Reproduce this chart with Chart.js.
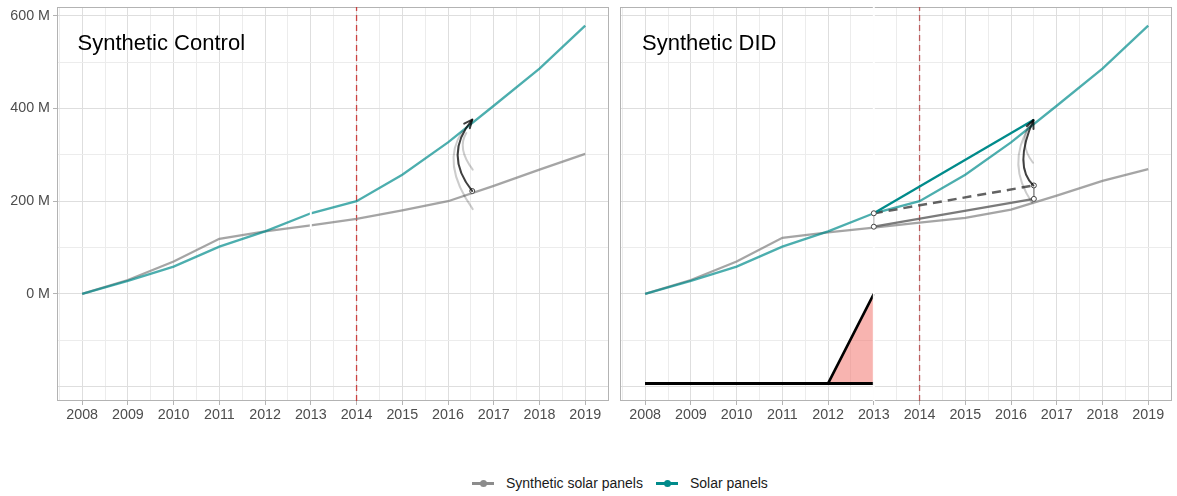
<!DOCTYPE html>
<html lang="en">
<head>
    <meta charset="UTF-8">
    <title>Synthetic Control vs Synthetic DID</title>
    <script src="https://cdn.jsdelivr.net/npm/chart.js"></script>
    <style>
        body { margin: 0; background: #fff; font-family: "Liberation Sans", Arial, sans-serif; }
        #wrap { position: relative; width: 1177px; height: 496px; }
        .panel { position: absolute; top: 0; }
        #left { left: 0; }
        #right { left: 612px; }
        #legend { position: absolute; top: 475px; left: 472px; display: flex; align-items: center; font-size: 14px; line-height: 17px; color: #1a1a1a; }
        .item { display: flex; align-items: center; }
        .swatch { position: relative; width: 22px; height: 3px; margin-right: 12px; }
        .swatch span { position: absolute; left: 8px; top: -2px; width: 7px; height: 7px; border-radius: 50%; }
    </style>
</head>
<body>
<div id="wrap">
    <canvas id="left" class="panel" width="615" height="440"></canvas>
    <canvas id="right" class="panel" width="565" height="440"></canvas>
    <div id="legend">
        <div class="item"><div class="swatch" style="background:#8c8c8c"><span style="background:#8c8c8c"></span></div>Synthetic solar panels</div>
        <div class="item" style="margin-left:13px"><div class="swatch" style="background:#008b8b"><span style="background:#008b8b"></span></div>Solar panels</div>
    </div>
</div>
<script>
    // values in millions
    const years = [2008, 2009, 2010, 2011, 2012, 2013, 2014, 2015, 2016, 2017, 2018, 2019];
    const solarPanels = [0, 28, 59, 102, 135, 174, 200, 257, 327, 406, 486, 579];
    const synthControl = [0, 30, 70, 119, 135, 148, 162, 180, 200, 233, 268, 302];
    const synthDID = [0, 30, 70, 121, 133, 143, 154, 164, 182, 212, 244, 269];
    const treatYear = 2014;

    const yTicks = [-200, -100, 0, 100, 200, 300, 400, 500, 600];
    const yLabelled = [0, 200, 400, 600];
    const xTicks = [2007.5, 2008, 2008.5, 2009, 2009.5, 2010, 2010.5, 2011, 2011.5, 2012, 2012.5,
        2013, 2013.5, 2014, 2014.5, 2015, 2015.5, 2016, 2016.5, 2017, 2017.5, 2018, 2018.5, 2019, 2019.5];
    const yMin = -231, yMax = 619;
    const xMin = 2007.45, xMax = 2019.52;

    // SDID time weights, drawn as a strip under the lines
    const lambdaYears = [2008, 2009, 2010, 2011, 2012, 2013];
    const lambdaWeights = [0, 0, 0, 0, 0, 1];
    const lambdaBase = -193, lambdaTop = 0;

    // DID construction in the right panel
    const didYears = [2013, 2016.5];
    const didTreated = [174, 376];
    const didControl = [145, 205];
    const didShifted = [174, 234];

    // curved effect arrows: [x0, y0, cx, cy, x1, y1]
    const scArrow = [2016.53, 222, 2015.89, 300, 2016.53, 376];
    const scGhosts = [[2016.54, 183, 2015.83, 283, 2016.32, 351], [2016.54, 268, 2016.19, 314, 2016.4, 347]];
    const didArrow = [2016.49, 234, 2016.05, 276, 2016.49, 375];
    const didGhosts = [[2016.46, 197, 2015.89, 279, 2016.4, 361], [2016.48, 283, 2016.15, 326, 2016.42, 368]];

    const pts = (xs, ys) => xs.map((x, i) => ({ x: x, y: ys[i] }));
    const FONT = '"Liberation Sans", Arial, sans-serif';

    const panelDecor = {
        id: 'panelDecor',
        beforeDatasetsDraw(chart) {
            const a = chart.chartArea, ctx = chart.ctx;
            ctx.save();
            ctx.strokeStyle = '#b3b3b3';
            ctx.lineWidth = 1;
            ctx.strokeRect(a.left + 0.5, a.top + 0.5, a.right - a.left - 1, a.bottom - a.top - 1);
            ctx.restore();
        },
        afterDatasetsDraw(chart, args, opts) {
            const ctx = chart.ctx, xs = chart.scales.x, ys = chart.scales.y;
            const curve = (c, color, head) => {
                const x0 = xs.getPixelForValue(c[0]), y0 = ys.getPixelForValue(c[1]);
                const cx = xs.getPixelForValue(c[2]), cy = ys.getPixelForValue(c[3]);
                const x1 = xs.getPixelForValue(c[4]), y1 = ys.getPixelForValue(c[5]);
                ctx.strokeStyle = color;
                ctx.beginPath();
                ctx.moveTo(x0, y0);
                ctx.quadraticCurveTo(cx, cy, x1, y1);
                ctx.stroke();
                if (head) {
                    const ang = Math.atan2(y1 - cy, x1 - cx);
                    ctx.beginPath();
                    ctx.moveTo(x1 - 9 * Math.cos(ang - 0.42), y1 - 9 * Math.sin(ang - 0.42));
                    ctx.lineTo(x1, y1);
                    ctx.lineTo(x1 - 9 * Math.cos(ang + 0.42), y1 - 9 * Math.sin(ang + 0.42));
                    ctx.stroke();
                }
            };
            ctx.save();
            ctx.lineWidth = 2;
            ctx.lineCap = 'round';
            ctx.lineJoin = 'round';
            (opts.ghosts || []).forEach(g => curve(g, 'rgba(0,0,0,0.2)', false));
            if (opts.arrow) curve(opts.arrow, 'rgba(0,0,0,0.75)', true);
            ctx.fillStyle = '#000';
            ctx.font = '22px ' + FONT;
            ctx.textBaseline = 'alphabetic';
            ctx.fillText(opts.title, chart.chartArea.left + opts.titleOffset, 50);
            ctx.restore();
        }
    };

    function scalesFor(showY, yWidth) {
        return {
            x: {
                type: 'linear', min: xMin, max: xMax,
                afterBuildTicks: s => { s.ticks = xTicks.map(v => ({ value: v })); },
                afterFit: s => { s.height = 39; s.paddingLeft = 0; s.paddingRight = 0; },
                border: { display: false },
                grid: {
                    color: c => Number.isInteger(c.tick.value) ? '#dedede' : '#ececec',
                    tickLength: 4,
                    tickColor: c => Number.isInteger(c.tick.value) ? '#b3b3b3' : 'rgba(0,0,0,0)'
                },
                ticks: {
                    autoSkip: false, maxRotation: 0, padding: 1, color: '#4d4d4d',
                    font: { size: 14.3, family: FONT },
                    callback: v => Number.isInteger(v) ? String(v) : ''
                }
            },
            y: {
                type: 'linear', min: yMin, max: yMax,
                afterBuildTicks: s => { s.ticks = yTicks.map(v => ({ value: v })); },
                afterFit: s => { s.width = yWidth; s.paddingTop = 0; s.paddingBottom = 0; },
                border: { display: false },
                grid: {
                    color: c => c.tick.value % 200 === 0 ? '#dedede' : '#ececec',
                    drawTicks: showY,
                    tickLength: 4,
                    tickColor: c => yLabelled.includes(c.tick.value) ? '#b3b3b3' : 'rgba(0,0,0,0)'
                },
                ticks: {
                    display: showY, padding: 3, color: '#4d4d4d',
                    font: { size: 14.3, family: FONT },
                    callback: v => yLabelled.includes(v) ? v + ' M' : ''
                }
            }
        };
    }

    const lineDs = (data, color, width, order, extra) => Object.assign({
        data: data, borderColor: color, borderWidth: width, pointRadius: 0,
        fill: false, tension: 0, order: order
    }, extra || {});

    const vline = (x, ys, color, width, order, dash) =>
        lineDs([{ x: x, y: ys[0] }, { x: x, y: ys[1] }], color, width, order, { borderDash: dash || [] });

    const markers = (data, order) => ({
        data: data, showLine: false, pointRadius: 2.5, pointBorderWidth: 1,
        pointBackgroundColor: '#fff', pointBorderColor: '#444', order: order
    });

    // left panel: synthetic control
    new Chart(document.getElementById('left'), {
        type: 'line',
        data: {
            datasets: [
                lineDs(pts(years, solarPanels), 'rgba(0,139,139,0.7)', 2.3, 2),
                lineDs(pts(years, synthControl), 'rgba(127,127,127,0.7)', 2.3, 3),
                vline(treatYear, [yMin, yMax], 'rgba(200,40,40,0.85)', 1.3, 5, [6, 4]),
                vline(2013, [140, 182], '#ffffff', 2, 1),
                markers([{ x: scArrow[0], y: scArrow[1] }], 0)
            ]
        },
        options: {
            responsive: false, animation: false, devicePixelRatio: 1,
            layout: { padding: { top: 7, right: 6, left: 0, bottom: 0 } },
            plugins: {
                legend: { display: false }, tooltip: { enabled: false },
                panelDecor: { title: 'Synthetic Control', titleOffset: 20.5, arrow: scArrow, ghosts: scGhosts }
            },
            scales: scalesFor(true, 57)
        },
        plugins: [panelDecor]
    });

    // right panel: synthetic DID
    new Chart(document.getElementById('right'), {
        type: 'line',
        data: {
            datasets: [
                lineDs(pts(lambdaYears, lambdaWeights.map(w => lambdaBase + w * (lambdaTop - lambdaBase))),
                    '#000', 2.6, 8, { fill: { value: lambdaBase }, backgroundColor: 'rgba(242,105,98,0.5)' }),
                lineDs(pts([lambdaYears[0], lambdaYears[lambdaYears.length - 1]], [lambdaBase, lambdaBase]), '#000', 3, 7),
                lineDs(pts(years, solarPanels), 'rgba(0,139,139,0.7)', 2.3, 4),
                lineDs(pts(years, synthDID), 'rgba(127,127,127,0.7)', 2.3, 5),
                vline(treatYear, [yMin, yMax], 'rgba(178,60,60,0.8)', 1.3, 6, [6, 4]),
                vline(2013, [yMin, yMax], 'rgba(255,255,255,0.95)', 2, 3),
                lineDs(pts(didYears, didTreated), '#008b8b', 2.3, 2),
                lineDs(pts(didYears, didControl), 'rgba(90,90,90,0.8)', 2.3, 2),
                lineDs(pts(didYears, didShifted), 'rgba(70,70,70,0.85)', 2.5, 2, { borderDash: [9, 6] }),
                vline(didYears[0], [didControl[0], didTreated[0]], '#c8c8c8', 1.5, 1),
                vline(didYears[1], [didControl[1], didShifted[1]], '#8a8a8a', 1.5, 1),
                markers([{ x: didYears[0], y: didControl[0] }, { x: didYears[0], y: didTreated[0] },
                    { x: didYears[1], y: didControl[1] }, { x: didYears[1], y: didShifted[1] }], 0)
            ]
        },
        options: {
            responsive: false, animation: false, devicePixelRatio: 1,
            layout: { padding: { top: 7, right: 1, left: 0, bottom: 0 } },
            plugins: {
                legend: { display: false }, tooltip: { enabled: false },
                panelDecor: { title: 'Synthetic DID', titleOffset: 22, arrow: didArrow, ghosts: didGhosts }
            },
            scales: scalesFor(false, 8)
        },
        plugins: [panelDecor]
    });
</script>
</body>
</html>
